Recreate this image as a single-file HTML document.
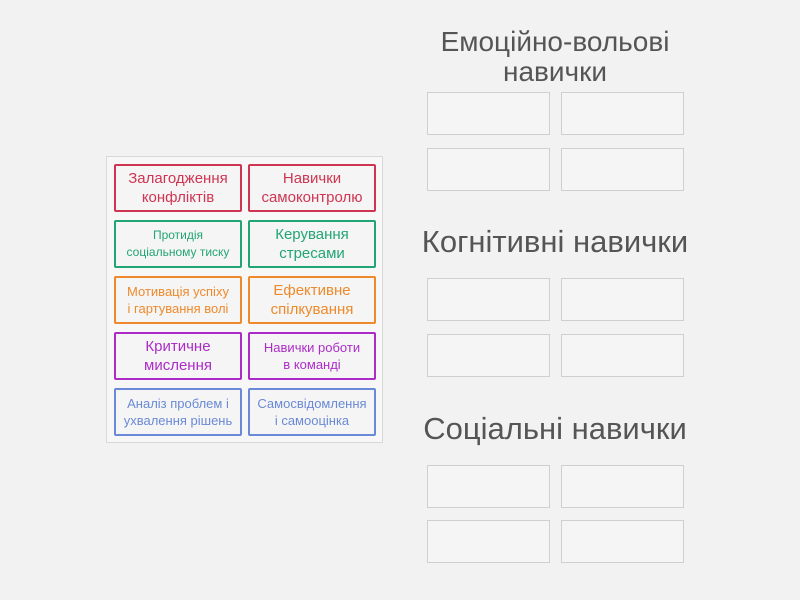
<!DOCTYPE html>
<html><head><meta charset="utf-8"><style>
body{margin:0;width:800px;height:600px;background:#f3f2f2;position:relative;overflow:hidden;font-family:"Liberation Sans","DejaVu Sans",sans-serif}
.wrap{position:absolute;left:106px;top:156px;width:275px;height:285px;border:1px solid #d8d8d8;background:#f7f7f7}
.c{position:absolute;width:124px;height:44px;border:2px solid;border-radius:2px;background:#f5f5f5;display:flex;align-items:center;justify-content:center;text-align:center;line-height:19px;font-size:15px;box-sizing:content-box}
.s{font-size:13px;line-height:17px}
.x{font-size:12px}
.r{color:#cf3552;border-color:#cf3552}.g{color:#22a574;border-color:#22a574}.o{color:#ee8a2c;border-color:#ee8a2c}.p{color:#ad2cc8;border-color:#ad2cc8}.b{color:#6a89d6;border-color:#6a89d6}
.e{position:absolute;width:121px;height:41px;border:1px solid #cfcfcf;background:#f5f5f5}
.t{position:absolute;color:#555;text-align:center;width:300px}
</style></head><body>
<div class="wrap"></div>
<div class="c r" style="left:114px;top:164px">Залагодження<br>конфліктів</div>
<div class="c r" style="left:248px;top:164px">Навички<br>самоконтролю</div>
<div class="c g s x" style="left:114px;top:220px">Протидія<br>соціальному тиску</div>
<div class="c g" style="left:248px;top:220px">Керування<br>стресами</div>
<div class="c o s" style="left:114px;top:276px">Мотивація успіху<br>і гартування волі</div>
<div class="c o" style="left:248px;top:276px">Ефективне<br>спілкування</div>
<div class="c p" style="left:114px;top:332px">Критичне<br>мислення</div>
<div class="c p s" style="left:248px;top:332px">Навички роботи<br>в команді</div>
<div class="c b s" style="left:114px;top:388px">Аналіз проблем і<br>ухвалення рішень</div>
<div class="c b s" style="left:248px;top:388px">Самосвідомлення<br>і самооцінка</div>
<div class="t" style="left:405px;top:27px;font-size:28px;line-height:30px">Емоційно-вольові<br>навички</div>
<div class="t" style="left:405px;top:224px;font-size:31px">Когнітивні навички</div>
<div class="t" style="left:405px;top:411px;font-size:31px">Соціальні навички</div>
<div class="e" style="left:427px;top:92px"></div><div class="e" style="left:561px;top:92px"></div>
<div class="e" style="left:427px;top:148px"></div><div class="e" style="left:561px;top:148px"></div>
<div class="e" style="left:427px;top:278px"></div><div class="e" style="left:561px;top:278px"></div>
<div class="e" style="left:427px;top:334px"></div><div class="e" style="left:561px;top:334px"></div>
<div class="e" style="left:427px;top:465px"></div><div class="e" style="left:561px;top:465px"></div>
<div class="e" style="left:427px;top:520px"></div><div class="e" style="left:561px;top:520px"></div>
</body></html>
